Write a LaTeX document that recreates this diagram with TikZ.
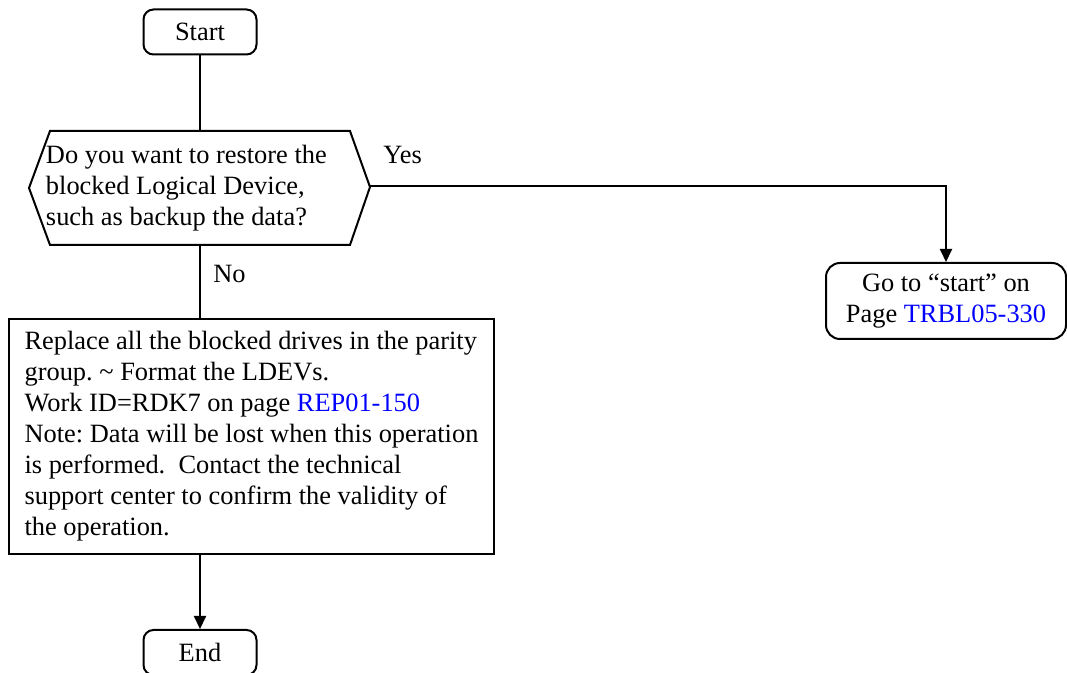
\documentclass[tikz,border=0pt]{standalone}
\usepackage{fontspec}
\setmainfont{Liberation Serif}
\usepackage{xcolor}
\usetikzlibrary{arrows.meta, positioning, calc}
\definecolor{linkblue}{HTML}{0000FF}
\frenchspacing
\tikzset{
  box/.style={draw=black, line width=1pt, align=left, inner sep=0pt,
              font=\fontsize{13.2}{15.5}\selectfont},
  termbox/.style={box, align=center, rounded corners=5pt,
                  minimum width=56.5pt, minimum height=22.5pt},
  gotobox/.style={box, align=center, rounded corners=7pt,
                  minimum width=120pt, minimum height=38pt},
  decbox/.style={box, draw=none, align=flush left, text width=154pt,
                 minimum width=154pt, minimum height=57pt},
  actbox/.style={box, minimum width=242.5pt, minimum height=117.5pt},
  hexline/.style={line width=1pt, draw=black},
  flow/.style={line width=1pt, draw=black},
  flowa/.style={flow, -{Triangle[length=6.5pt, width=6pt]}},
  lbl/.style={font=\fontsize{13.2}{15.5}\selectfont, inner sep=0pt, anchor=west},
}

\begin{document}
\begin{tikzpicture}[x=0.5pt, y=-0.5pt]
  \useasboundingbox (0,0) rectangle (1067,673);

  \node[termbox] (start) at (200,32) {Start};
  \node[decbox] (dec) at (200,188) {Do you want to restore the\\ blocked Logical Device,\\ such as backup the data?};
  \draw[hexline] ($(dec.center)+(-150,-57)$) -- ($(dec.center)+(150,-57)$)
    -- ($(dec.center)+(170,-1)$) -- ($(dec.center)+(150,57)$)
    -- ($(dec.center)+(-150,57)$) -- ($(dec.center)+(-171,0)$) -- cycle;
  \coordinate (dec-r) at ($(dec.center)+(170,-2)$);

  \node[gotobox] (goto) at (946,301) {Go to ``start'' on\\ Page \textcolor{linkblue}{TRBL05-330}};
  \node[actbox] (act) at (251.5,436.5) {Replace all the blocked drives in the parity\\
    group. \textasciitilde\ Format the LDEVs.\\
    Work ID=RDK7 on page \textcolor{linkblue}{REP01-150}\\
    Note: Data will be lost when this operation\\
    is performed.\ \ Contact the technical\\
    support center to confirm the validity of\\
    the operation.};
  \node[termbox] (end) at (200,652.5) {End};

  \draw[flow] (start) -- (dec);
  \draw[flowa] (dec-r) -| (goto);
  \draw[flow] (dec.south) -- (dec.south |- act.north);
  \draw[flowa] (end.north |- act.south) -- (end.north);
  \node[lbl] (yes) at (383,155) {Yes};
  \node[lbl] (no) at (213,274) {No};
\end{tikzpicture}
\end{document}
